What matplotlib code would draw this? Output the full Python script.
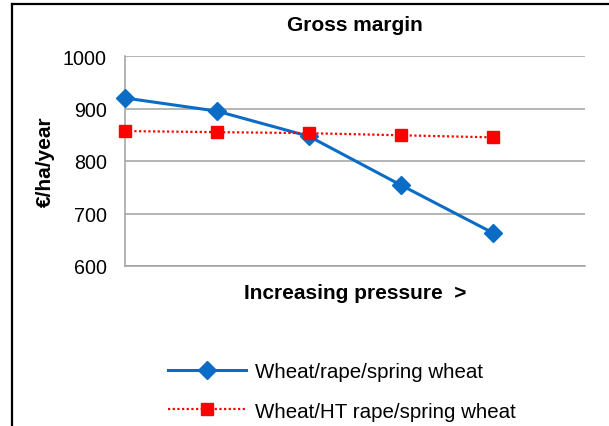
import numpy as np
import matplotlib.pyplot as plt
from matplotlib.lines import Line2D

steps = [1, 2, 3, 4, 5]  # increasing pressure
rotation_a = [920, 895, 847, 754, 663]  # Wheat/rape/spring wheat
rotation_b = [857, 855, 853, 849, 845]  # Wheat/HT rape/spring wheat
labels = ['Wheat/rape/spring wheat', 'Wheat/HT rape/spring wheat']
yticks = [600, 700, 800, 900, 1000]

plt.rcParams['font.family'] = ['Liberation Sans', 'DejaVu Sans']

fig = plt.figure(figsize=(6.09, 4.27), dpi=100)
ax = fig.add_axes([125 / 609, 1 - 267 / 427, 460 / 609, 210 / 427])

x = np.arange(len(steps))
ax.plot(x, rotation_a, color='#0a6cc4', linewidth=2.2, marker='D', markersize=9.5,
        label=labels[0], zorder=3, clip_on=False)
ax.plot(x, rotation_b, color='#ff0000', linewidth=1.6, linestyle=(0, (1, 1.1)), marker='s',
        markersize=8.5, label=labels[1], zorder=4, clip_on=False)

ax.set_xlim(0, 5)
ax.set_ylim(600, 1000)
ax.set_yticks(yticks)
ax.set_xticks([])
ax.tick_params(axis='y', length=0, pad=13, labelsize=14.2)
ax.grid(axis='y', color='#a0a0a0', linewidth=1.1)
ax.set_axisbelow(True)
for s in ['top', 'right']:
    ax.spines[s].set_visible(False)
for s in ['left', 'bottom']:
    ax.spines[s].set_color('#a0a0a0')
    ax.spines[s].set_linewidth(1.1)

ax.set_title('Gross margin', fontsize=15, fontweight='bold', pad=19)
ax.set_ylabel('€/ha/year', fontsize=15, fontweight='bold', labelpad=6)
ax.set_xlabel('Increasing pressure  >', fontsize=15, fontweight='bold', labelpad=12)

fig.legend(loc='upper left', bbox_to_anchor=(168 / 609, 1 - 363 / 427), frameon=False,
           fontsize=14.8, handlelength=3.8, handletextpad=0.45, labelspacing=1.0,
           borderpad=0, borderaxespad=0)

# outer chart frame (left and top edges visible)
fig.add_artist(Line2D([12 / 609, 12 / 609], [0, 1 - 5 / 427], color='black', linewidth=1.6,
                      transform=fig.transFigure))
fig.add_artist(Line2D([12 / 609, 1], [1 - 5 / 427, 1 - 5 / 427], color='black', linewidth=1.6,
                      transform=fig.transFigure))

plt.savefig('out.png', dpi=100)
